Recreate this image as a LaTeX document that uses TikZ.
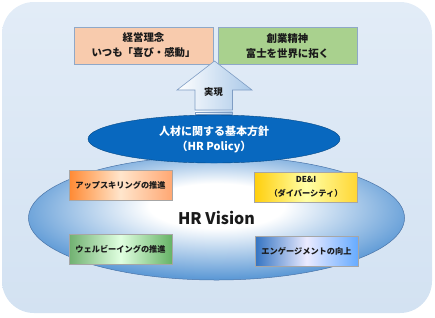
\documentclass[tikz,border=0pt]{standalone}
\usepackage{fontspec}
\setmainfont{Noto Sans CJK JP}
\usetikzlibrary{shapes.geometric}
\definecolor{bgtop}{HTML}{E2ECF7}
\definecolor{bgbot}{HTML}{D3E2F2}
\definecolor{hvblue}{HTML}{5E9AD6}
\definecolor{hvline}{HTML}{4A74A8}
\definecolor{polblue}{HTML}{0868BF}
\definecolor{peach}{HTML}{F8CBAD}
\definecolor{leaf}{HTML}{A9D18E}
\definecolor{boxline}{HTML}{8FA8C8}
\definecolor{txt}{HTML}{1A1A1A}
\definecolor{arrline}{HTML}{7F9DC4}
\definecolor{arrblue}{HTML}{A9C8E8}
\pgfdeclareradialshading{hvshade}{\pgfpoint{0bp}{6bp}}{%
 color(0bp)=(white); color(9bp)=(white); color(27bp)=(hvblue); color(50bp)=(hvblue)}
\begin{document}
\begin{tikzpicture}[x=1pt,y=-1pt,
 topbox/.style={draw=boxline, line width=0.6pt, minimum width=139pt, minimum height=37pt,
   inner sep=0pt, align=center, font=\fontsize{10.4}{15}\selectfont\bfseries, text=txt},
 smallbox/.style={draw=gray!70, line width=0.5pt, minimum width=103pt, minimum height=30pt,
   inner sep=0pt, align=center, font=\fontsize{8.2}{14}\selectfont\bfseries, text=txt}]
\useasboundingbox (0,0) rectangle (435,317);
% background
\path[top color=bgtop, bottom color=bgbot, rounded corners=32pt] (2,2) rectangle (432,313);
% HR Vision ellipse
\node[ellipse, draw=hvline, line width=0.5pt, shading=hvshade, minimum width=376pt, minimum height=124pt, inner sep=0pt] (hrv) at (216.5,218) {};
\node[font=\fontsize{16}{18}\selectfont\bfseries, text=txt] (hrvt) at (216.5,218) {HR Vision};
% small boxes
\node[smallbox, left color=orange!85!red!80, right color=orange!75!red!55, middle color=orange!20!white] (up) at (120.5,185.5) {アップスキリングの推進};
\node[smallbox, left color=yellow!60!orange!95, right color=yellow!60!orange!80, middle color=yellow!35!white] (dei) at (306,187) {DE\&I\\（ダイバーシティ）};
\node[smallbox, left color=green!45!black!70!white!80, right color=green!50!black!60!white, middle color=green!12!white] (wb) at (120.5,249) {ウェルビーイングの推進};
\node[smallbox, left color=blue!55!cyan!70!black!80, right color=blue!55!cyan!60, middle color=blue!8!white] (eng) at (306.5,251) {エンゲージメントの向上};
% top boxes
\node[topbox, fill=peach] (keiei) at (143.5,45.5) {経営理念\\いつも「喜び・感動」};
\node[topbox, fill=leaf] (sogyo) at (287.5,46) {創業精神\\富士を世界に拓く};
% arrow
\path[draw=arrline, line width=0.6pt, left color=white, right color=arrblue]
 (214.5,61) -- (252,90) -- (232.5,90) -- (232.5,110) -- (195,110) -- (195,90) -- (177,90) -- cycle;
\path[draw=arrline, line width=0.5pt, left color=white, right color=arrblue] (195,111.8) rectangle (232.5,113.8);
\path[draw=arrline, line width=0.5pt, left color=white, right color=arrblue] (195,115.6) rectangle (232.5,117.6);
\node[font=\fontsize{9.3}{11}\selectfont\bfseries, text=txt] (jitsu) at (213.5,92) {実現};
% policy ellipse
\node[ellipse, fill=polblue, draw=polblue!70!black, line width=0.4pt, minimum width=252pt, minimum height=48pt, inner sep=0pt,
 align=center, text=white, font=\fontsize{11}{15}\selectfont\bfseries] (pol) at (214,139) {人材に関する基本方針\\（HR Policy）};
\end{tikzpicture}
\end{document}
